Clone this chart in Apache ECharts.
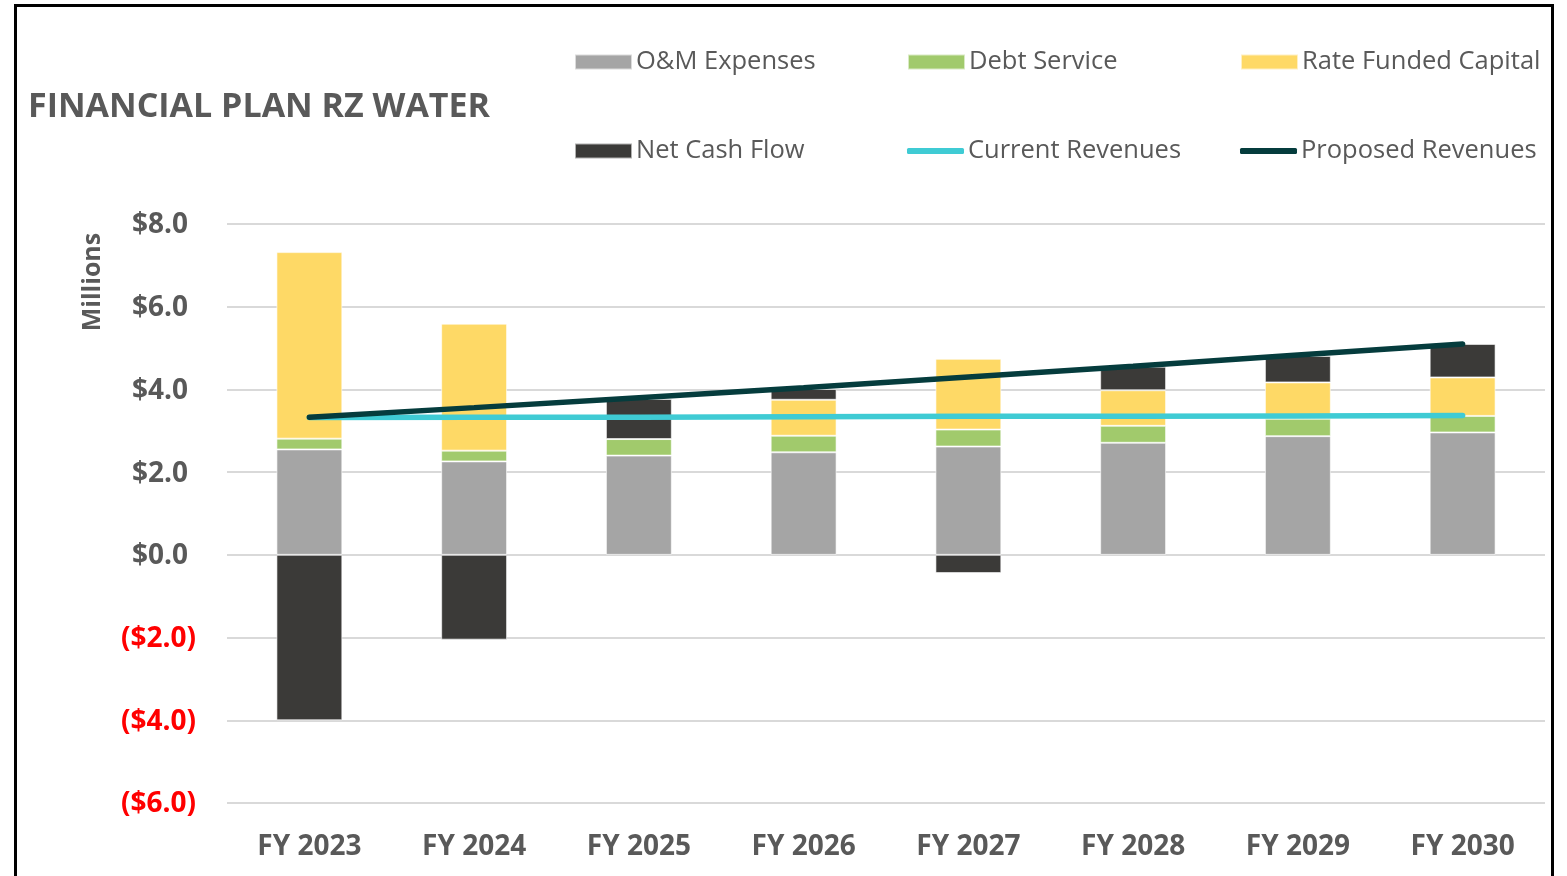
<!DOCTYPE html>
<html>
<head>
<meta charset="utf-8">
<script src="https://cdn.jsdelivr.net/npm/echarts@6/dist/echarts.min.js"></script>
<style>
  html, body { margin: 0; padding: 0; background: #fff; }
  #main { width: 1567px; height: 876px; }
</style>
</head>
<body>
<div id="main"></div>
<script>
// values in $ millions
const years = ["FY 2023", "FY 2024", "FY 2025", "FY 2026", "FY 2027", "FY 2028", "FY 2029", "FY 2030"];
const omExpenses = [2.55, 2.26, 2.40, 2.48, 2.62, 2.71, 2.87, 2.96];
const debtService = [0.26, 0.26, 0.40, 0.40, 0.41, 0.41, 0.42, 0.40];
const rateFundedCapital = [4.51, 3.07, 0.0, 0.87, 1.71, 0.86, 0.88, 0.93];
const netCashFlow = [-4.00, -2.05, 0.97, 0.26, -0.44, 0.57, 0.64, 0.81];
const currentRevenues = [3.32, 3.33, 3.33, 3.34, 3.35, 3.35, 3.36, 3.37];
const proposedRevenues = [3.33, 3.56, 3.80, 4.04, 4.30, 4.56, 4.83, 5.10];
const yTicks = { min: -6, max: 8, step: 2 };

const chartDom = document.getElementById("main");
const myChart = echarts.init(chartDom);
const font = "Open Sans";
const textGray = "#595959";

const legendItem = (name, left, top, isLine) => ({
  data: [name],
  left: left,
  top: top,
  icon: isLine ? "roundRect" : "rect",
  itemWidth: 57,
  itemHeight: isLine ? 6 : 15,
  itemGap: 0,
  selectedMode: false,
  textStyle: { fontFamily: font, fontSize: 25.5, color: textGray, padding: [0, 0, 0, -1] }
});

const barSeries = (name, data, color) => ({
  name: name,
  type: "bar",
  stack: "total",
  barWidth: "40%",
  itemStyle: { color: color, borderColor: "rgba(255,255,255,0.6)", borderWidth: 1 },
  data: data
});

const lineSeries = (name, data, color) => ({
  name: name,
  type: "line",
  symbol: "none",
  z: 5,
  lineStyle: { color: color, width: 5.5, cap: "round" },
  itemStyle: { color: color },
  data: data
});

const option = {
  animation: false,
  title: {
    text: "FINANCIAL PLAN RZ WATER",
    left: 23,
    top: 85,
    textStyle: { fontFamily: font, fontSize: 34, fontWeight: "bold", color: textGray }
  },
  legend: [
    legendItem("O&M Expenses", 569, 44, false),
    legendItem("Debt Service", 902, 44, false),
    legendItem("Rate Funded Capital", 1235, 44, false),
    legendItem("Net Cash Flow", 569, 133, false),
    legendItem("Current Revenues", 902, 133, true),
    legendItem("Proposed Revenues", 1235, 133, true)
  ],
  grid: { left: 227, right: 22, top: 224, bottom: 73, containLabel: false },
  xAxis: {
    type: "category",
    data: years,
    axisLine: { show: false },
    axisTick: { show: false },
    axisLabel: {
      margin: 30,
      fontFamily: font,
      fontSize: 28,
      fontWeight: "bold",
      color: textGray
    }
  },
  yAxis: {
    type: "value",
    min: yTicks.min,
    max: yTicks.max,
    interval: yTicks.step,
    axisLine: { show: false },
    axisTick: { show: false },
    splitLine: { lineStyle: { color: "#d9d9d9", width: 2 } },
    axisLabel: {
      margin: 31,
      formatter: function (v) {
        if (v < 0) return "{neg|($" + Math.abs(v).toFixed(1) + ")}";
        return "{pos|$" + v.toFixed(1) + "}";
      },
      rich: {
        neg: { fontFamily: font, fontSize: 28, fontWeight: "bold", color: "#ff0000", padding: [3, 0, 0, 0] },
        pos: { fontFamily: font, fontSize: 28, fontWeight: "bold", color: textGray, padding: [3, 8, 0, 0] }
      }
    }
  },
  graphic: [
    {
      type: "rect",
      silent: true,
      shape: { x: 15.5, y: 5.5, width: 1537, height: 900 },
      style: { fill: null, stroke: "#000", lineWidth: 3 }
    },
    {
      type: "text",
      silent: true,
      x: 93,
      y: 282,
      rotation: Math.PI / 2,
      style: {
        text: "Millions",
        fontFamily: font,
        fontSize: 25,
        fontWeight: "bold",
        fill: textGray,
        align: "center",
        verticalAlign: "middle"
      }
    }
  ],
  series: [
    barSeries("O&M Expenses", omExpenses, "#a5a5a5"),
    barSeries("Debt Service", debtService, "#a1ca6c"),
    barSeries("Rate Funded Capital", rateFundedCapital, "#fed966"),
    barSeries("Net Cash Flow", netCashFlow, "#3b3a38"),
    lineSeries("Current Revenues", currentRevenues, "#3fcbd4"),
    lineSeries("Proposed Revenues", proposedRevenues, "#053c3d")
  ]
};

myChart.setOption(option);
</script>
</body>
</html>
